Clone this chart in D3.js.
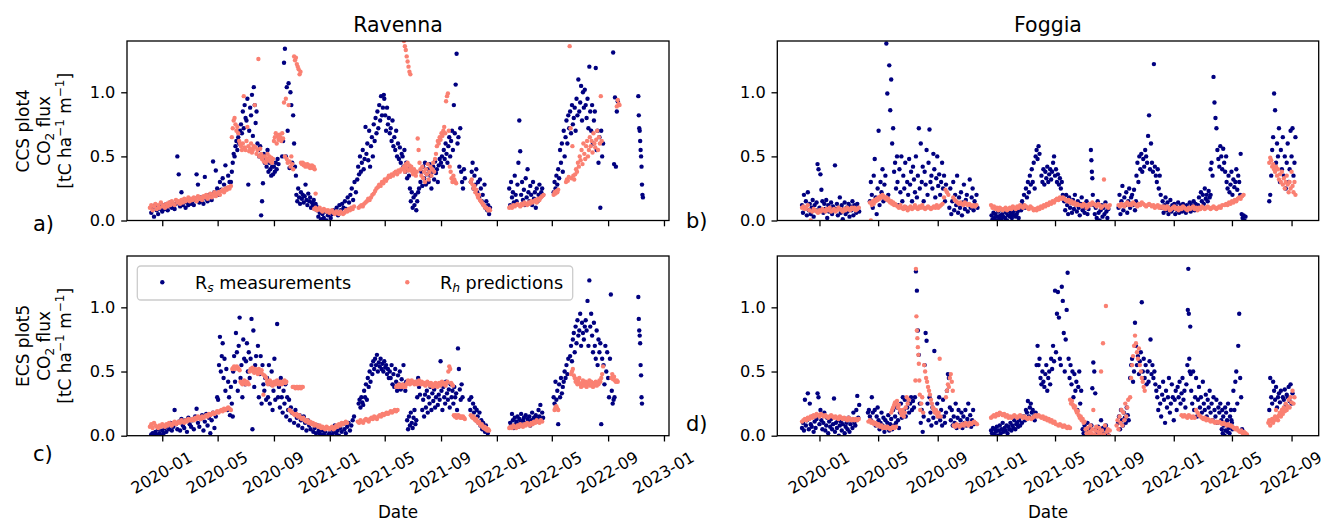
<!doctype html>
<html>
<head>
<meta charset="utf-8">
<script src="https://cdn.jsdelivr.net/npm/d3@7"></script>
<style>
  body { margin: 0; background: #fff; }
  svg { display: block; }
  text { font-family: "DejaVu Sans", sans-serif; fill: #000; }
</style>
</head>
<body>
<svg id="chart" width="1325" height="522"></svg>
<script>
// each series: [first day, step in days]
var ravennaCcsRs = [
  ["2019-12-08", 3, [.06,.1,.03,.12,.08,.05,.11,.09,.07,.12,.09,.13,.08,.11,.14,.1,.12,.09,.13,.5,.36,.11,.22,.12,.15,.1,.14,.12,.16,.13,.15,.12,.17,.36,.28,.14,.18,.15,.13,.34,.17,.15,.2,.19,.16,.46,.22,.39,.25,.2,.3,.24,.33,.28,.43,.25,.35,.3]],
  ["2020-05-30", 2, [.3,.38,.45,.52,.5,.58,.62,.55,.65,.6,.7,.75,.68,.85,.72,.9,.8,.78,.95,.28,.7,.88,.82,.98,.66,1.04,.9,.76,.85,.6,.55,.5,.58,.04,.15,.29,.52,.45,.48,.42,.55,.38,.45,.4,.35,.42,.36,.42,.38,.45,.4,.48,.44]],
  ["2020-09-19", 2, [.5,.62,1.23,1.34,.5,1.04,.7,1.07,.41,1.0,.9,.45,.82,.6,.42,.35]],
  ["2020-10-20", 2, [.2,.15,.25,.18,.13,.22,.17,.2,.14,.19,.28,.16,.12,.21,.15,.18,.1,.14,.12,.16,.09,.13,.11,.08]],
  ["2020-12-07", 3, [.03,.06,.01,.05,.02,.07,0,.04,.06,.02,.05,.08]],
  ["2021-01-13", 3, [.06,.1,.04,.12,.08,.13,.1,.15,.09,.18,.14,.2,.25,.16,.3,.22]],
  ["2021-03-02", 2, [.32,.42,.36,.5,.38,.45,.55,.4,.48,.73,.52,.6,.47,.7,.42,.58,.65,.5,.75,.62,.8,.68,.85,.72,.9,.78,.97,.82,.88,.98]],
  ["2021-04-30", 2, [.95,.82,.7,.88,.75,.8,.68,.72,.62,.78,.58,.65,.55,.7,.5,.6,.48,.57,.45,.52,.5,.42,.55,.38,.45,.33,.4,.35,.25,.15,.22,.1,.18,.12,.2,.08,.15,.22,.25]],
  ["2021-07-18", 2, [.3,.38,.27,.42,.33,.45,.28,.36,.4,.3,.44,.35,.25,.38,.42,.32,.46,.37,.4,.3,.43,.48]],
  ["2021-09-01", 2, [.45,.5,.42,.55,.48,.6,.52,.45,.58,.65,.5,.62,.7,.55,.9,.68,1.06,1.3,.6,.65,.42,.72]],
  ["2021-10-15", 2, [.38,.3,.25,.4,.33]],
  ["2021-11-05", 2, [.3,.38,.45,.25,.35,.28,.4,.22,.3,.18,.32,.25,.15,.2,.12,.28,.1,.15,.08,.12,.05,.1]],
  ["2022-01-28", 2, [.25,.12,.3,.18,.22,.14,.35,.2,.15,.28,.45,.78,.54,.2,.3,.16,.24,.12,.33,.18,.4,.22,.15,.27,.2,.12,.3,.17,.22,.1,.25,.15,.2,.28,.18,.22,.25,.2]],
  ["2022-05-05", 2, [.22,.3,.25,.35,.28,.4,.33,.55,.45,.6,.38,.7,.5,.65,.78,.6,.82,.72,.85,.68,.9,.75,.8,.88,.7,.95,.82,1.1,.85,.92,1.05,.78,1.0,.88,1.02,.9,.8,.95,.72,1.2,.85,.7,.9,.6,.78,.85,1.19,.55,.7,.45,.65,.1,.7,.5,.6]],
  ["2022-09-12", 2, [1.31,.44,.96,.42,.85,.93]],
  ["2022-11-06", 1, [.97,.82,.72,.7,.62,.55,.5,.42,.28,.2,.18]]
];
var ravennaCcsRh = [
  ["2019-12-05", 3, [.1,.12,.08,.11,.13,.09,.12,.1,.14,.11,.12,.1,.13,.11,.14,.12,.15,.13,.12,.16,.14,.15,.13,.16,.14,.17,.15,.16,.18,.15,.17,.16,.18,.17,.15,.19,.17,.18,.16,.19,.18,.2,.17,.19,.21,.18,.2,.22,.19,.21,.22,.2,.23,.24,.22,.25,.24,.26,.25,.27]],
  ["2020-06-01", 2, [.65,.72,.78,.8,.75,.7,.73,.68,.62,.6,.58,.55,.6,.97,.57,.55,.62,.73,.58,.54,.56,.6,.53,.55,.58,.9,.57,.52,.55,1.26,.5,.56,.52,.48,.5,.46,.5,.45,.48,.52,.47,.5,.46,.49,.45,.48,.62,.65,.68,.6,.66,.63,.67,.65,.62,.68,.64,.92,.5,.95,.48,.45,.9,.46,.42,.5,.44,.4]],
  ["2020-10-15", 2, [1.28,1.25,1.27,1.22,1.2,1.18,1.14,1.16]],
  ["2020-10-30", 2, [.45,.44,.45,.43,.44,.42,.43,.44,.42,.43,.41,.42,.43,.41,.42,.4,.21]],
  ["2020-11-28", 3, [.09,.1,.08,.09,.1,.08,.07,.09,.08,.07,.08,.06,.07,.08,.06,.05,.07,.06,.05,.07,.06,.05,.06,.08,.07,.09,.08,.1,.09,.11]],
  ["2021-03-05", 3, [.1,.11,.12,.11,.13,.14,.15,.17,.16,.18,.2,.21,.23,.25,.26,.28,.27,.3,.29,.32,.31,.33,.35,.34,.36,.35,.37,.38,.36,.39,.38,.4]],
  ["2021-06-10", 2, [1.45,1.4,1.36,1.33,1.28,1.24,1.2,1.16,1.14]],
  ["2021-06-10", 2, [.4,.42,.38,.44,.41,.45,.39,.43,.4,.42,.38,.36,.4,.37,.35,.38,.64,.55,.45,.4,.35,.42,.33,.38,.3,.4,.36,.44,.32,.38,.42,.35,.4,.45,.38]],
  ["2021-08-19", 2, [.48,.52,.58,.62,.6,.65,.63,.68,.66,.7,.73,.68,.93,.97,.99,.7,.42,.38,.33,.3,.35,.32,.3,.29]],
  ["2021-11-05", 2, [.3,.32,.28,.25,.27,.22,.24,.2,.18,.2,.16,.15,.14,.13,.12,.11,.1,.1,.09,.08,.09,.08]],
  ["2022-01-28", 3, [.1,.11,.1,.12,.11,.12,.13,.12,.11,.13,.12,.14,.13,.12,.14,.13,.15,.14,.15,.16,.14,.17,.16,.18,.19,.2]],
  ["2022-05-05", 2, [.2,.22,.21,.23,.22,.24]],
  ["2022-06-01", 2, [.3,.32,.31,.34,1.36,.72,.33,.58,.35,.32,.36,.4,.38,.45,.42,.5,.47,.55,.44,.6,.52,.48,.58,.62,.5,.55,.65,.58,.62,.53,.68,.6,.57,.63,.7,.55,.65,.6,.97,.62]],
  ["2022-09-20", 2, [.89,.94,.91,.9]]
];
var ravennaEcsRs = [
  ["2019-12-08", 3, [.01,.02,0,.03,.01,.05,.02,0,.04,.02,.06,.03,.08,.05,.1,.04,.07,.2,.09,.05,.11,.04,.13,.08,.06,.12,.03,.14,.09,.07,.12,.05,.15,.21,.1,.07,.13,.16,.04,.11,.17,.08,.14,.02,.12,.18,.06,.15]],
  ["2020-04-30", 2, [.3,.28,.55,.77,.5,.62,.72,.45,.6,.35,.52,.2,.42,.3,.16,.38,.25,.15]],
  ["2020-06-04", 2, [.5,.62,.42,.8,.65,.35,.7,.92,.45,.55,.3,.75,.6,.4,.58,.72,.5,.65,.45,.6,.91,.05,.82,.38,.55,.62,.5,.7,.3,.48,.62,.25,.55,.4,.35,.45,.28]],
  ["2020-08-17", 2, [.45,.3,.55,.25,.4,.5,.2,.35,.6,.28,.42,.87,.3,.38,.22,.45,.3,.18,.35,.25,.4,.15,.3,.2,.28,.12,.22,.18]],
  ["2020-10-12", 3, [.18,.1,.2,.14,.08,.16,.12,.06,.15,.1,.04,.12,.08,.05,.1,.03,.06,.02,.08,.04]],
  ["2020-12-10", 3, [.02,0,.04,.01,.03,.06,0,.02,.05,.01,.03,.08,.02,.04,0,.06,.03,.09,.05,.02,.07,.1,.04,.08,.12,.15]],
  ["2021-03-05", 2, [.25,.28,.22,.3,.26,.24,.35,.3,.4,.28,.45,.38,.5,.42,.55,.48,.58,.52,.6,.55,.63,.5,.57,.54,.6,.52,.56,.5,.58,.53,.55,.48,.52,.45]],
  ["2021-05-12", 2, [.5,.45,.55,.4,.48,.38,.52,.42,.35,.47,.4,.5,.36,.44,.38,.55,.4,.35,.42]],
  ["2021-06-19", 2, [.12,.05,.15,.08,.18,.1,.06,.14,.2,.09,.12,.3,.45,.38,.32]],
  ["2021-07-22", 2, [.2,.28,.15,.32,.22,.35,.18,.3,.25,.38,.2,.33,.27,.36,.22,.3,.4,.24,.32,.28,.58,.35,.2,.38,.3,.25,.42,.33,.28,.36,.22,.4,.3,.35,.25,.38,.3,.33,.2,.68,.52,.36,.28,.4,.3]],
  ["2021-11-02", 2, [.28,.2,.3,.15,.25,.18,.22,.12,.2,.15,.1,.18,.08,.12,.05,.1,.06,.03,.08,.04,.02]],
  ["2022-01-30", 2, [.1,.08,.17,.12,.06,.14,.09,.11,.15,.07,.13,.1,.17,.08,.12,.14,.1,.16,.09,.13,.11,.15,.08,.12,.18,.1,.14,.12,.16,.11,.13,.2,.15,.24,.12,.18,.14]],
  ["2022-05-05", 2, [.3,.25,.42,.28,.35,.09,.4,.3,.45,.33,.38,.42,.5,.45,.55,.48,.6]],
  ["2022-06-10", 2, [.62,.7,.58,.75,.8,.65,.85,.72,.9,.78,.82,.95,.7,.88,.8,.75,.85,.9,.82,1.05,.7,1.21,.85,.95,.78,.65,.88,.7,.6,.82,.55,.75,.65,.72,.09,.6]],
  ["2022-08-22", 2, [.55,.4,.7,.5,.65,.45,.3,.6,1.1,.35,.25,.28,.3]],
  ["2022-11-06", 1, [1.08,.91,.82,.78,.72,.55,.47,.3,.25]]
];
var ravennaEcsRh = [
  ["2019-12-05", 3, [.07,.09,.06,.1,.08,.07,.06,.08,.07,.09,.08,.07,.09,.08,.1,.09,.08,.1,.11,.09,.1,.11,.1,.12,.11,.1,.12,.11,.13,.12,.12,.13,.12,.14,.13,.15,.14,.13,.15,.14,.15,.16,.15,.17,.16,.17,.18,.17,.18,.19,.18,.19,.2,.19,.21,.2,.21,.22,.21,.2]],
  ["2020-06-02", 2, [.52,.53,.54,.52,.53,.54,.53,.52,.51,.42,.41,.4,.42,.43,.41,.4,.42,.41,.4,.5,.52,.51,.53,.5,.49,.52,.51,.5,.48,.52,.5,.49,.51,.48,.32,.47,.46,.45,.42,.4,.41,.43,.42,.4,.39,.41,.42,.4,.41,.43,.42,.4,.41,.42,.4,.41,.42,.43,.41,.42]],
  ["2020-10-12", 2, [.38,.38,.38,.37,.38,.38,.37,.38,.38,.37,.38,.38]],
  ["2020-10-05", 3, [.2,.19,.18,.17,.16,.17,.15,.16,.14,.13,.14,.12,.11,.12,.1,.11,.09,.1,.08,.09,.08,.07,.08,.06,.07,.06,.05,.07,.06,.05,.06,.07,.05,.06,.08,.07,.09,.08,.1,.09,.1,.11,.1]],
  ["2021-03-03", 3, [.11,.1,.12,.11,.1,.12,.13,.12,.11,.13,.14,.13,.15,.14,.13,.15,.16,.15,.17,.16,.17,.18,.17,.18,.19,.18,.19,.2,.19,.2]],
  ["2021-05-26", 2, [.38,.39,.38,.4,.39,.38,.39,.4,.38,.39,.38,.4,.41,.43,.42,.4,.41,.43,.42,.41,.4,.42,.41,.4,.42,.43,.41,.4,.42,.41,.4,.41,.39,.4,.42,.41,.4,.39,.41,.4,.38,.4,.39,.41,.4,.38,.4,.41,.39,.4,.42,.4,.41,.4,.39,.41,.42,.5,.54,.52,.41,.4,.39]],
  ["2021-09-29", 2, [.16,.15,.16,.14,.15,.16,.15,.14,.15,.14,.15,.14,.13]],
  ["2021-11-05", 2, [.16,.15,.14,.15,.13,.12,.13,.11,.1,.11,.09,.08,.09,.07,.06,.07,.05,.06,.04,.05,.04]],
  ["2022-01-28", 3, [.06,.07,.06,.08,.07,.06,.08,.07,.09,.08,.07,.09,.08,.1,.09,.08,.1,.09,.11,.1,.12,.11,.1,.12,.11]],
  ["2022-05-07", 2, [.2,.22,.23,.21,.2]],
  ["2022-06-12", 2, [.48,.5,.52,.47,.45,.42,.44,.4,.42,.45,.4,.38,.41,.43,.39,.4,.42,.38,.41,.4,.43,.39,.42,.4,.38,.41,.4,.42,.39,.41,.4,.43,.42,.45,.48,.54]],
  ["2022-09-08", 2, [.45,.48,.44,.46,.43,.42,.43,.42]]
];
var foggiaCcsRs = [
  ["2019-11-26", 2, [.12,.06,.2,.1,.15,.04,.22,.08,.13,.05,.1,.16,.03,.12,.08,.14,.44,.4,.1,.36,.24,.15,.06,.13,.09,.16,.02,.12,.07,.1,.14,.05,.11,.08,.43,.09,.13,.04,.1,.18,.06,.12,.01,.09,.14,.05,.1,.07,.13,.03,.11,.08,.15,.04,.12,.09,.06,.13,.1,.07]],
  ["2020-04-14", 2, [.15,.3,.2,.1,.35,.48,.18,.05,.25,.7,.12,.3,.22,.4,.15,.28,.35,1.38,.99,.2,1.21,.86,1.1,.6,.72,.38,.45,.25,.5]],
  ["2020-06-10", 2, [.3,.12,.4,.22,.5,.15,.35,.25,.45,.1,.3,.2,.48,.28,.38,.15,.42,.32,.22,.5,.18,.35,.72,.25,.6,.3,.42,.15,.38,.28,.55,.2,.45,.71,.3,.35,.25,.52,.4,.18,.33,.5,.27,.36,.2,.3,.45,.25,.35,.15,.28]],
  ["2020-09-25", 2, [.1,.25,.05,.15,.3,.08,.2,.12,.35,.06,.18,.1,.22,.04,.14,.28,.09,.16,.2,.07,.12,.32,.1,.18,.25,.08,.15,.12,.2,.1]],
  ["2020-12-21", 2, [.04,.01,.06,.02,.05,0,.03,.07,.02,.04,.01,.05,.03,.08,.02,.06,0,.04,.07,.03,.05,.02,.06,.04,.08,.03,.05,.07,.02]],
  ["2021-02-18", 2, [.1,.08,.15,.12,.2,.1,.25,.18,.3,.22,.35,.28,.4,.3,.45,.25,.5,.55,.48,.58,.52]],
  ["2021-04-03", 2, [.35,.3,.4,.28,.38,.33,.42,.3,.36,.4,.32,.38,.45,.5,.35,.4,.3,.36,.28,.33,.25,.3,.2]],
  ["2021-05-20", 2, [.15,.08,.2,.12,.05,.18,.1,.14,.06,.16,.09,.2,.12,.07,.15,.1,.04,.13,.18,.08,.12,.06,.1,.15,.05,.09,.12]],
  ["2021-07-14", 1, [.55,.47,.38,.33,.2]],
  ["2021-07-20", 2, [.12,.05,.1,.02,.15,.06,0,.08,.12,.03,.1,.05,.14,.07,.02,.09]],
  ["2021-09-09", 2, [.1,.2,.05,.15,.27,.08,.18,.12,.22,.06,.15,.25,.1,.18,.2,.12,.24,.08,.15]],
  ["2021-10-16", 2, [.35,.45,.3,.5,.4,.52,.38,.48,.42,.55,.5,.45,.66,.82,.4,.6,.45,.38,1.22,.42,.35,.3,.4,.25,.35]],
  ["2021-12-05", 2, [.2,.1,.15,.06,.12,.18,.08,.14,.05,.1,.16,.07,.12,.09,.13,.05,.11,.08,.14,.06,.1,.12,.07,.13,.09,.11,.06,.12,.08,.1,.14,.07,.12,.1,.15,.08,.13,.11]],
  ["2022-02-20", 2, [.12,.18,.1,.22,.15,.2,.13,.25,.17,.2,.15,.23,.18,.2]],
  ["2022-03-18", 2, [.4,.45,.35,1.12,.92,.8,.72,.55,.48,.42,.58,.5,.4,.56,.45,.38,.5]],
  ["2022-04-20", 2, [.3,.25,.35,.22,.28,.38,.2,.32,.26,.3,.4,.24,.35,.3,.2]],
  ["2022-05-19", 2, [.52,.05,.02,.04,0,.03]],
  ["2022-07-17", 2, [.15,.2,.35,.55,.65,.99,.86,.45,.6,.5,.72,.3,.55,.4,.65,.35,.5,.25,.45,.6,.3,.4,.7,.5,.72,.35,.45,.65]]
];
var foggiaCcsRh = [
  ["2019-11-26", 3, [.1,.11,.09,.1,.12,.08,0,.07,.09,.08,.07,.06,.08,.07,.09,.08,.07,.09,.08,.1,.07,.08,.09,.07,.08,.1,.09,.08,.07,.09,.08,.1,.09,.08,.1,.09,.1,.08,.09,.1]],
  ["2020-04-14", 2, [.14,0,.12,.15,.13,.16,.15,.17,.16,.18,.17,.19,.18,.2,.19,.18,.17,.18,.16,.17,.15,.14,.15,.13,.14,.12,.13,.12]],
  ["2020-06-10", 3, [.11,.1,.12,.1,.09,.11,.1,.08,.1,.11,.09,.1,.12,.1,.09,.11,.1,.12,.1,.09,.1,.11,.1,.09,.1,.11,.1,.12,.1,.11,.12,.13,.18,.24,.22,.2]],
  ["2020-10-03", 3, [.18,.16,.15,.14,.13,.14,.13,.12,.14,.13,.12,.13,.12,.11,.12,.11,.12]],
  ["2020-12-20", 3, [.12,.1,.11,.09,.1,.08,.1,.09,.08,.09,.1,.08,.09,.1,.09,.11,.1,.09,.11,.1,.12,.11,.1,.12,.11,.1,.09,.11,.1]],
  ["2021-03-18", 3, [.08,.09,.08,.1,.09,.11,.1,.12,.11,.13,.12,.14,.13,.15,.14,.16,.17,.16,.18,.17,.18,.17,.16,.15,.16,.14,.15,.13,.14,.12,.13,.12]],
  ["2021-06-23", 3, [.12,.11,.13,.12,.1,.11,.13,.12,.14,.13,.12,.11,.13,.12,.1,.11,.32,.12,.11,.1,.12]],
  ["2021-09-09", 3, [.12,.11,.13,.12,.11,.13,.14,.12,.13,.12,.14,.13,.12,.11,.13,.12,.14,.13,.12,.11,.12,.13,.12,.11,.12,.1,.11,.12,.1,.11,.1,.11]],
  ["2021-12-12", 3, [.1,.09,.11,.1,.08,.09,.1,.11,.09,.1,.08,.1,.09,.11,.1,.09,.08,.1,.09,.1,.11,.09,.1,.08,.1,.09,.11,.1,.09,.1,.11,.1,.09,.1,.11,.1,.09,.1,.11,.1,.12]],
  ["2022-04-16", 3, [.12,.13,.12,.14,.13,.15,.14,.16,.15,.17,.18,.17,.19,.2]],
  ["2022-07-17", 2, [.45,.49,.47,.42,.44,.4,.38,.42,.35,.4,.32,.36,.3,.38,.28,.33,.25,.3,.35,.28,.22,.3,.25,.38,.27,.22,.3,.2]]
];
var foggiaEcsRs = [
  ["2019-11-26", 2, [.06,.1,.04,.28,.08,.12,.33,.05,.25,.09,.07,.15,.03,.11,.06,.13,.33,.3,.09,.2,.12,.05,.1,.18,.04,.08,.14,.02,.11,.07,.13,.05,.09,.29,.03,.1,.06,.12,0,.08,.11,.04,.09,.13,.02,.07,.1,.05,.14,.03,.09,.12,.06,.18,.1,.08,.2,.31,.14,.24]],
  ["2020-04-10", 2, [.18,.2,.15,.12,.3,.18,.1,.2,.08,.15,.22,.12,.05,.1,.18,.08,.14,.03,.12,.06,.1,.16,.04,.09,.13,.05,.2,.08,.15,.1,.22,.12,.06,.18,.25,.14,.3,.2,.28,.15]],
  ["2020-06-30", 2, [.22,.28,.18,.25,.3,.2,.27,.22,.3,1.28,1.13,.82,.63,.25]],
  ["2020-07-28", 2, [.1,.2,.03,.15,.55,.8,.74,.25,.12,.3,.18,.08,.22,.14,.66,.2,.1,.25,.15,.3,.12,.2,.08,.28,.15,.1,.18,.35,.48,.45,.22,.12,.2,.08,.15,.1,.25,.06,.14,.2,.08,.12,.18,.06,.15,.1,.2,.08,.13,.25,.1,.16,.07,.12,.2,.09]],
  ["2020-12-20", 2, [.04,.02,.06,.01,.05,.03,.07,0,.04,.08,.02,.05,.1,.03,.06,.04,.08,.02,.07,.05,.1,.04,.08,.06,.12,.05,.09,.1,.07,.12,.08,.15,.1]],
  ["2021-02-26", 2, [.15,.12,.2,.18,.27,.15,.22,.25,.18,.2,.15,.12,.18,.55,.7]],
  ["2021-03-28", 2, [.55,.6,.45,.4,.5,.42,.38,.48,.55,.35,.45,.5,.4,.6,.52,.7,.58,1.13,.65,.95,1.12,.92,.6,.55,1.16,1.05,.8,.5,.75,.98,1.27,.6,.45,.55,.4,.5,.3,.48,.35,.42,.2,.38,.5,.25,.35]],
  ["2021-06-27", 2, [.05,.02,.08,0,.04,.1,.03,.06,.01,.08,.37,.57,.5,.33,.05,.02,.07,0,.04,.12,.03,.06,.01,.05,.08,.02,.04,0]],
  ["2021-09-08", 2, [.1,.15,.05,.2,.12,.08,.18,.14,.1,.22,.16,.12]],
  ["2021-10-03", 2, [.45,.55,.6,.42,.5,.88,.7,.55,.62,.48,.58,.65,1.04,.5,.6,.45,.55,.4,.5,.42,.58,.75,.48,.55,.45,.5,.4,.35]],
  ["2021-11-28", 2, [.3,.2,.38,.25,.15,.32,.42,.28,.1,.35,.22,.3,.45,.18,.25,.4,.3,.12,.28,.35,.2,.38,.3,.42,.25,.33,.45,.28,.35,.22,.4]],
  ["2022-01-29", 1, [.55,.98,1.3,.95,.6,.5,.85,.48]],
  ["2022-02-06", 2, [.35,.25,.5,.2,.3,.45,.15,.28,.38,.22,.3,.18,.42,.25,.2,.32,.15,.28,.22,.35,.18,.25,.12,.3,.2,.15,.28,.1,.22,.18,.25,.12,.2,.15,.1,.22,.18,.12,.25,.08,.15,.2,.1]],
  ["2022-04-10", 2, [.05,.02,.08,0,.04,.1,.03,.06,.02,.08,.12,.05,.35,.2,.42,.5,.25,.7,.95,.45,.3,.05,.02]],
  ["2022-07-17", 2, [.2,.45,.3,.25,.42,.35,.28,.38,.22,.3,.33,.26,.35,.18,.3,.28,.36,.24,.32,.3,.38,.27,.4,.25,.33]]
];
var foggiaEcsRh = [
  ["2019-11-26", 3, [.11,.12,.13,.12,.14,.13,.15,.14,.16,.15,.17,.16,.15,.17,.16,.15,.16,.15,.14,.15,.16,.15,.14,.15,.14,.13,.15,.14,.13,.14,.13,.12,.14,.13,.12,.13,.12,.13,.12,.13]],
  ["2020-04-11", 3, [.11,.12,.1,.11,.09,.1,.08,.09,.07,.08,.06,.07,.06,.07,.06,.05,.06,.07,.06,.07]],
  ["2020-05-28", 2, [.18,.2,.22,.24,.26,.25,.27,.22,.24,.2,.18,.16,.2,.15,.18,.22,.3,.25,.28]],
  ["2020-07-17", 1, [.43,1.3,.93,.82,.76,.69,.63,.56,.43,.32]],
  ["2020-07-27", 2, [.2,.25,.3,.18,.55,.5,.45,.42,.38,.35,.32,.28,.25,.22,.2,.18,.2,.17,.15,.18,.6,.15]],
  ["2020-09-18", 2, [.3,.35,.4,.38,.45,.48,.42,.35]],
  ["2020-10-04", 3, [.08,.07,.09,.08,.07,.08,.09,.08,.1,.09,.08,.1,.09,.1,.11,.1,.09]],
  ["2020-12-20", 3, [.14,.15,.16,.15,.17,.16,.18,.17,.16,.17,.15,.16,.14,.15,.14,.15,.16,.15,.14,.15,.16,.15,.14,.15,.14,.13,.14]],
  ["2021-03-13", 3, [.13,.14,.15,.16,.15,.16,.15,.14,.15,.13,.14,.12,.13,.11,.12,.1,.11,.09]],
  ["2021-05-08", 3, [.08,.09,.08,.07,.08,.07,.06,.07,.06]],
  ["2021-06-01", 2, [.28,.25,.27,.24,.22,.23,.2,.18,.19,.16,.14,.15,.12,.13,.1,.11]],
  ["2021-07-03", 2, [.05,.02,.06,0,.03,.08,.02,.05,.2,.01,.04,.07,0,.03,.06,.02,.5,.04,.72,.01,.08,1.01,.03,.05,0,.04]],
  ["2021-09-05", 2, [.08,.12,.05,.15,.1,.2,.08,.18,.12,.25,.15,.22,.28]],
  ["2021-10-03", 2, [.3,.45,.55,.62,.7,.78,.72,.65,.6,.68,.55,.5,.45,.42,.38,.35]],
  ["2022-01-17", 3, [.16,.15,.16,.15,.14,.16,.15,.14,.15,.14,.2,.18,.16,.15,.14,.13,.14,.12,.13,.12,.11,.12,.11,.1,.11,.1,.11,.1,.09,.1,.09,.08,.09,.08]],
  ["2022-04-29", 3, [.08,.07,.06,.05,.06,.04,.03,.04,.02,.03,.02,.01]],
  ["2022-07-15", 2, [.1,.12,.08,.11,.13,.1,.12,.15,.2,.14,.12,.16,.18,.15,.2,.17,.22,.19,.25,.2,.23,.28,.22,.3,.26,.35,.25,.3]]
];

var leftTicks = ["2020-01", "2020-05", "2020-09", "2021-01", "2021-05", "2021-09", "2022-01", "2022-05", "2022-09", "2023-01"];
var rightTicks = ["2020-01", "2020-05", "2020-09", "2021-01", "2021-05", "2021-09", "2022-01", "2022-05", "2022-09"];
var yTicks = [0, 0.5, 1.0];
var yDomain = [0, 1.4];
var leftDomain = ["2019-10-16", "2023-01-12"];
var rightDomain = ["2019-10-06", "2022-10-27"];
var sites = ["Ravenna", "Foggia"];
var plots = ["CCS plot4", "ECS plot5"];

var rsColor = "#000080", rhColor = "#fa8072";
var tickSize = 5.8, fontSize = 16.2, dotR = 2.2;
var parseDay = d3.utcParse("%Y-%m-%d");
var parseMonth = d3.utcParse("%Y-%m");
var svg = d3.select("#chart");

function expand(segments) {
  var out = [];
  segments.forEach(function (s) {
    var t0 = parseDay(s[0]);
    s[2].forEach(function (v, i) {
      out.push({ date: d3.utcDay.offset(t0, i * s[1]), value: v });
    });
  });
  return out;
}

var panels = [
  { key: "a", rs: ravennaCcsRs, rh: ravennaCcsRh, left: 127, right: 669, top: 41, bottom: 220.5, domain: leftDomain, ticks: leftTicks, labels: false },
  { key: "b", rs: foggiaCcsRs, rh: foggiaCcsRh, left: 777.3, right: 1318.7, top: 41, bottom: 220.5, domain: rightDomain, ticks: rightTicks, labels: false },
  { key: "c", rs: ravennaEcsRs, rh: ravennaEcsRh, left: 127, right: 669, top: 256, bottom: 435.7, domain: leftDomain, ticks: leftTicks, labels: true },
  { key: "d", rs: foggiaEcsRs, rh: foggiaEcsRh, left: 777.3, right: 1318.7, top: 256, bottom: 435.7, domain: rightDomain, ticks: rightTicks, labels: true }
];

panels.forEach(function (p) {
  var x = d3.scaleUtc().domain(p.domain.map(parseDay)).range([p.left, p.right]);
  var y = d3.scaleLinear().domain(yDomain).range([p.bottom, p.top]);
  var g = svg.append("g");

  g.append("clipPath").attr("id", "clip-" + p.key).append("rect")
    .attr("x", p.left).attr("y", p.top)
    .attr("width", p.right - p.left).attr("height", p.bottom - p.top);

  var dots = g.append("g").attr("clip-path", "url(#clip-" + p.key + ")");
  dots.append("g").selectAll("circle").data(expand(p.rs)).join("circle")
    .attr("cx", function (d) { return x(d.date); })
    .attr("cy", function (d) { return y(d.value); })
    .attr("r", dotR).attr("fill", rsColor);
  dots.append("g").selectAll("circle").data(expand(p.rh)).join("circle")
    .attr("cx", function (d) { return x(d.date); })
    .attr("cy", function (d) { return y(d.value); })
    .attr("r", dotR).attr("fill", rhColor);

  var xAxis = d3.axisBottom(x)
    .tickValues(p.ticks.map(parseMonth))
    .tickSize(tickSize)
    .tickFormat(p.labels ? d3.utcFormat("%Y-%m") : function () { return ""; });
  var ax = g.append("g").attr("transform", "translate(0," + p.bottom + ")").call(xAxis)
    .attr("font-family", null).attr("font-size", fontSize);
  ax.select(".domain").remove();
  ax.selectAll(".tick line").attr("stroke", "#000").attr("stroke-width", 1.3);
  ax.selectAll(".tick text")
    .attr("y", null).attr("dy", null)
    .attr("dominant-baseline", "central")
    .attr("transform", "translate(-1,37) rotate(-30)");

  var yAxis = d3.axisLeft(y).tickValues(yTicks).tickSize(tickSize).tickPadding(tickSize)
    .tickFormat(d3.format(".1f"));
  var ay = g.append("g").attr("transform", "translate(" + p.left + ",0)").call(yAxis)
    .attr("font-family", null).attr("font-size", fontSize);
  ay.select(".domain").remove();
  ay.selectAll(".tick line").attr("stroke", "#000").attr("stroke-width", 1.3);

  g.append("rect")
    .attr("x", p.left).attr("y", p.top)
    .attr("width", p.right - p.left).attr("height", p.bottom - p.top)
    .attr("fill", "none").attr("stroke", "#000").attr("stroke-width", 1.3);
});

// titles
svg.append("text").attr("x", 398).attr("y", 32).attr("text-anchor", "middle").attr("font-size", 20.5).text(sites[0]);
svg.append("text").attr("x", 1048).attr("y", 32).attr("text-anchor", "middle").attr("font-size", 20.5).text(sites[1]);

// x labels
[398, 1048].forEach(function (cx) {
  svg.append("text").attr("x", cx).attr("y", 518).attr("text-anchor", "middle").attr("font-size", 16.8).text("Date");
});

// y labels, three lines each
function yLabel(cy, first) {
  var g = svg.append("g").attr("transform", "translate(0," + cy + ") rotate(-90)")
    .attr("font-size", 17).attr("text-anchor", "middle");
  g.append("text").attr("x", 0).attr("y", 29).text(first);
  var t2 = g.append("text").attr("x", 0).attr("y", 50);
  t2.append("tspan").text("CO");
  t2.append("tspan").attr("font-size", 12).attr("dy", 4).text("2");
  t2.append("tspan").attr("dy", -4).text(" flux");
  var t3 = g.append("text").attr("x", 0).attr("y", 71);
  t3.append("tspan").text("[tC ha");
  t3.append("tspan").attr("font-size", 12).attr("dy", -7).text("\u22121");
  t3.append("tspan").attr("dy", 7).text(" m");
  t3.append("tspan").attr("font-size", 12).attr("dy", -7).text("\u22121");
  t3.append("tspan").attr("dy", 7).text("]");
}
yLabel(130.75, plots[0]);
yLabel(345.85, plots[1]);

// panel letters
var letters = [["a)", 33, 231], ["b)", 686, 228], ["c)", 33, 461], ["d)", 686, 431]];
letters.forEach(function (l) {
  svg.append("text").attr("x", l[1]).attr("y", l[2]).attr("font-size", 21).text(l[0]);
});

// legend in panel c
var lg = svg.append("g");
lg.append("rect").attr("x", 137.3).attr("y", 266).attr("width", 435.4).attr("height", 34)
  .attr("rx", 3.5).attr("fill", "#fff").attr("fill-opacity", 0.8)
  .attr("stroke", "#cccccc").attr("stroke-width", 1.3);
lg.append("circle").attr("cx", 162.3).attr("cy", 282.3).attr("r", dotR).attr("fill", rsColor);
lg.append("circle").attr("cx", 407.3).attr("cy", 282.3).attr("r", dotR).attr("fill", rhColor);
[[195, "s", " measurements"], [440, "h", " predictions"]].forEach(function (e) {
  var t = lg.append("text").attr("x", e[0]).attr("y", 288.5).attr("font-size", 17.6);
  t.append("tspan").text("R");
  t.append("tspan").attr("font-size", 12.3).attr("font-style", "italic").attr("dy", 3.5).text(e[1]);
  t.append("tspan").attr("dy", -3.5).text(e[2]);
});
</script>
</body>
</html>
